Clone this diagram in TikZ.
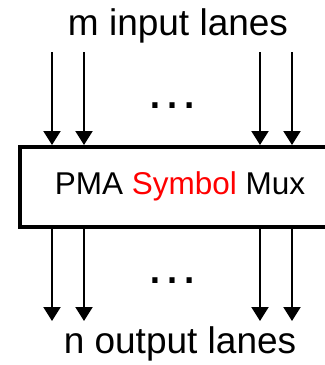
\documentclass[tikz,border=0pt]{standalone}
\usepackage{xcolor}
\usepackage{fontspec}
\setmainfont{Liberation Sans}
\usetikzlibrary{positioning, arrows.meta}

\begin{document}
\begin{tikzpicture}[
        x=0.5pt, y=-0.5pt,
        % Mux block style
        muxbox/.style={
            rectangle, draw=black, line width=2pt,
            fill=white,
            minimum width=160pt, minimum height=40pt,
            text height=0.72em, text depth=0pt,
            font=\fontsize{15.75}{18}\selectfont
        },
        % Lane label style
        lanelabel/.style={font=\fontsize{18.5}{22}\selectfont, anchor=base, inner sep=0pt},
        % Dots between the lanes
        gap/.style={font=\fontsize{27}{30}\selectfont, anchor=base, inner sep=0pt},
        % Lane arrows
        lane/.style={
            draw=black, line width=1pt,
            -{Triangle[length=7pt, width=8.5pt]}
        }
    ]

        \useasboundingbox (0,0) rectangle (325,365);
        \clip (0,0) rectangle (325,365);

        % Nodes
        \node[muxbox] (mux) at (180,187) {PMA \textcolor{red}{Symbol} Mux};
        \node[lanelabel] (inlabel) at (178,35) {m input lanes};
        \node[lanelabel] (outlabel) at (180,353) {n output lanes};
        \node[gap] (indots) at (172,108) {…};
        \node[gap] (outdots) at (172,283) {…};

        % Lane end points
        \foreach \x [count=\i] in {52, 84, 260, 292} {
            \coordinate (in\i) at (\x,52);
            \coordinate (out\i) at (\x,321);
        }

        % Connections
        \foreach \i in {1,...,4} {
            \draw[lane] (in\i) -- (in\i |- mux.north);
            \draw[lane] (out\i |- mux.south) -- (out\i);
        }

    \end{tikzpicture}
\end{document}
